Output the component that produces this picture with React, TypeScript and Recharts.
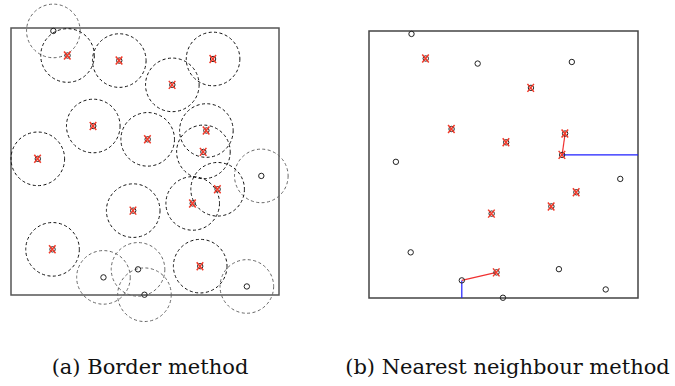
import React from 'react';
import { ScatterChart, Scatter, XAxis, YAxis, ReferenceArea, ReferenceLine } from 'recharts';

// point pattern (unit square), shared by both panels
const pointX = [0.158, 0.211, 0.404, 0.602, 0.754, 0.307, 0.510, 0.729, 0.718, 0.100, 0.934, 0.771, 0.678, 0.456, 0.155, 0.345, 0.474, 0.498, 0.706, 0.880];
const pointY = [0.989, 0.897, 0.878, 0.787, 0.884, 0.633, 0.583, 0.616, 0.536, 0.510, 0.446, 0.396, 0.343, 0.316, 0.171, 0.066, 0.096, 0.001, 0.108, 0.032];

// 1 = counted (red cross), 0 = not counted
const borderKept = [0, 1, 1, 1, 1, 1, 1, 1, 1, 1, 0, 1, 1, 1, 1, 0, 0, 0, 1, 0];
const nnKept = [0, 1, 0, 1, 0, 1, 1, 1, 1, 0, 0, 1, 1, 1, 0, 0, 1, 0, 0, 0];

const borderRadius = 0.1;

// nearest neighbour links [from, to] and border distance [from, side]
const nnLinks = [[8, 7], [15, 16]];
const borderLinks: [number, string][] = [[8, 'right'], [15, 'bottom']];

const captions = ['(a) Border method', '(b) Nearest neighbour method'];

const leftData = pointX.map((x, i) => ({ x, y: pointY[i], kept: borderKept[i] }));
const rightData = pointX.map((x, i) => ({ x, y: pointY[i], kept: nnKept[i] }));

const Marker = (props: any) => {
  const { cx, cy, payload } = props;
  return (
    <g>
      <circle cx={cx} cy={cy} r={2.7} fill="none" stroke="#222" strokeWidth={1} />
      {payload.kept ? (
        <g stroke="#f23a2a" strokeWidth={1.5}>
          <line x1={cx - 3.5} y1={cy - 4} x2={cx + 3} y2={cy + 4} />
          <line x1={cx + 3} y1={cy - 4} x2={cx - 3.5} y2={cy + 4} />
        </g>
      ) : null}
    </g>
  );
};

const LW = 300, LH = 330;
const lMargin = { top: 28, right: 21, bottom: 35, left: 11 };
const plotW = LW - lMargin.left - lMargin.right;

const Ring = (props: any) => {
  const { cx, cy, payload } = props;
  return (
    <circle cx={cx} cy={cy} r={borderRadius * plotW} fill="none"
      stroke={payload.kept ? '#111' : '#666'} strokeWidth={1} strokeDasharray="3 2.5" />
  );
};

const captionStyle: React.CSSProperties = {
  position: 'absolute', top: 355, textAlign: 'center',
  fontFamily: '"DejaVu Serif", serif', fontSize: 21, color: '#111'
};

export default function App() {
  return (
    <div style={{ position: 'absolute', left: 0, top: 0, width: 675, height: 386, background: '#fff' }}>
      <div style={{ position: 'absolute', left: 0, top: 0 }}>
        <ScatterChart width={LW} height={LH} margin={lMargin}>
          <XAxis type="number" dataKey="x" domain={[0, 1]} hide />
          <YAxis type="number" dataKey="y" domain={[0, 1]} hide />
          <ReferenceArea x1={0} x2={1} y1={0} y2={1} fill="none" stroke="#555" strokeWidth={1.5} fillOpacity={0} />
          <Scatter data={leftData} shape={Ring} isAnimationActive={false} />
          <Scatter data={leftData} shape={Marker} isAnimationActive={false} />
        </ScatterChart>
      </div>
      <div style={{ position: 'absolute', left: 340, top: 0 }}>
        <ScatterChart width={335} height={330} margin={{ top: 31, right: 37, bottom: 32, left: 29 }}>
          <XAxis type="number" dataKey="x" domain={[0, 1]} hide />
          <YAxis type="number" dataKey="y" domain={[0, 1]} hide />
          <ReferenceArea x1={0} x2={1} y1={0} y2={1} fill="none" stroke="#444" strokeWidth={1.5} fillOpacity={0} />
          {borderLinks.map(([i, side]) => (
            <ReferenceLine key={'b' + i} stroke="#1f1fff" strokeWidth={1.2} ifOverflow="visible"
              segment={side === 'right'
                ? [{ x: pointX[i], y: pointY[i] }, { x: 1, y: pointY[i] }]
                : [{ x: pointX[i], y: pointY[i] }, { x: pointX[i], y: 0 }]} />
          ))}
          {nnLinks.map(([a, b]) => (
            <ReferenceLine key={'n' + a} stroke="#f03030" strokeWidth={1.2} ifOverflow="visible"
              segment={[{ x: pointX[a], y: pointY[a] }, { x: pointX[b], y: pointY[b] }]} />
          ))}
          <Scatter data={rightData} shape={Marker} isAnimationActive={false} />
        </ScatterChart>
      </div>
      <div style={{ ...captionStyle, left: 0, width: 300 }}>{captions[0]}</div>
      <div style={{ ...captionStyle, left: 340, width: 335 }}>{captions[1]}</div>
    </div>
  );
}
